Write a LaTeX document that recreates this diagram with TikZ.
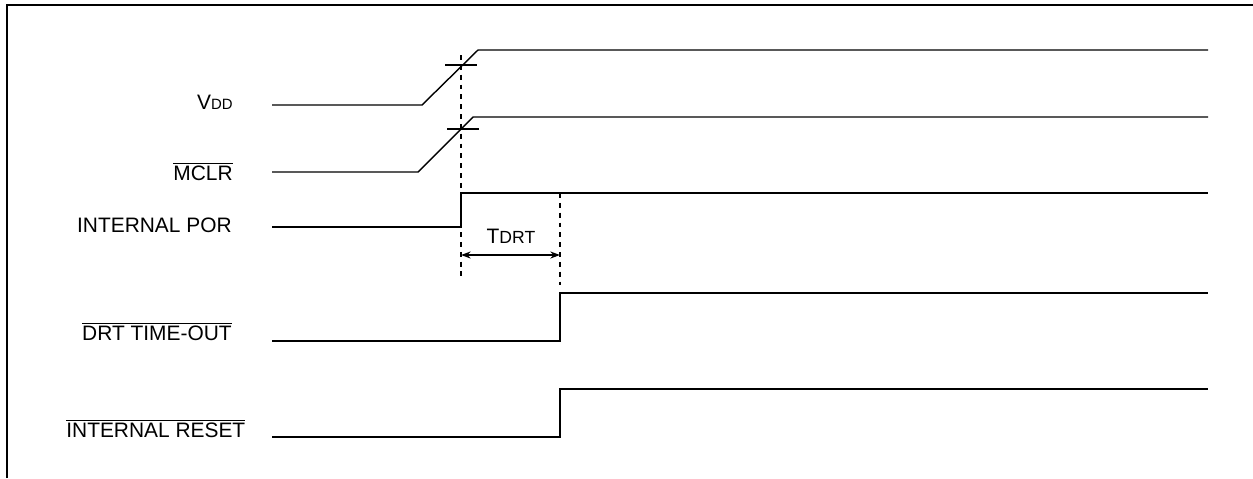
\documentclass[tikz,border=0pt]{standalone}
\usepackage{fontspec}
\setmainfont{Liberation Sans}
\usetikzlibrary{arrows.meta}
\newcommand{\barsig}[1]{$\overline{\mbox{#1}}$}
\newcommand{\lowsc}[2][8.5]{{\fontsize{#1}{10}\selectfont #2}}

\begin{document}
\begin{tikzpicture}[
				x=0.02cm, y=-0.02cm,
				declare function = {
						XL = 272;
						XR = 1208;
						TP = 461;
						TD = 560;
					},
				sig/.style = {line width=0.8pt},
				guide/.style = {line width=0.8pt, dash pattern=on 2.8pt off 2.8pt},
				lbl/.style = {font=\fontsize{11.9}{14}\selectfont, inner sep=0pt},
			]
			\path[use as bounding box] (0,0) rectangle (1253,478);
			\draw[line width=1.3pt] (7,478) -- (7,5) -- (1253,5);
			% signal names
			\node[lbl, anchor=base east] (vdd) at (233,109) {V\lowsc{DD}};
			\node[lbl, anchor=base east] (mclr) at (233,180) {\barsig{MCLR}};
			\node[lbl, anchor=base east] (por) at (232,232) {INTERNAL POR};
			\node[lbl, anchor=base east] (drt) at (232,340) {\barsig{DRT TIME-OUT}};
			\node[lbl, anchor=base west] (rst) at (66,437) {\barsig{INTERNAL RESET}};
			% waveforms
			\draw[sig] (XL,105) -- (422,105) -- (478,50) -- (XR,50);
			\draw[sig] (445,65) -- (477,65);
			\draw[sig] (XL,172) -- (418,172) -- (473,117) -- (XR,117);
			\draw[sig] (447,129) -- (479,129);
			\draw[sig] (XL,227) -- (TP,227) -- (TP,193) -- (XR,193);
			\draw[sig] (XL,341) -- (TD,341) -- (TD,293) -- (XR,293);
			\draw[sig] (XL,437) -- (TD,437) -- (TD,389) -- (XR,389);
			%	timing marks
			\draw[guide] (TP,55) -- (TP,280);
			\draw[guide] (TD,193) -- (TD,285);
			\coordinate (drtA) at (TP,255);
			\coordinate (drtB) at (TD,255);
			\draw[sig, {Stealth[length=5.5pt, width=4pt]}-{Stealth[length=5.5pt, width=4pt]}] (drtA) -- (drtB);
			\node[lbl, anchor=base] (tdrt) at (511,243) {T\lowsc[10]{DRT}};
		\end{tikzpicture}
\end{document}
